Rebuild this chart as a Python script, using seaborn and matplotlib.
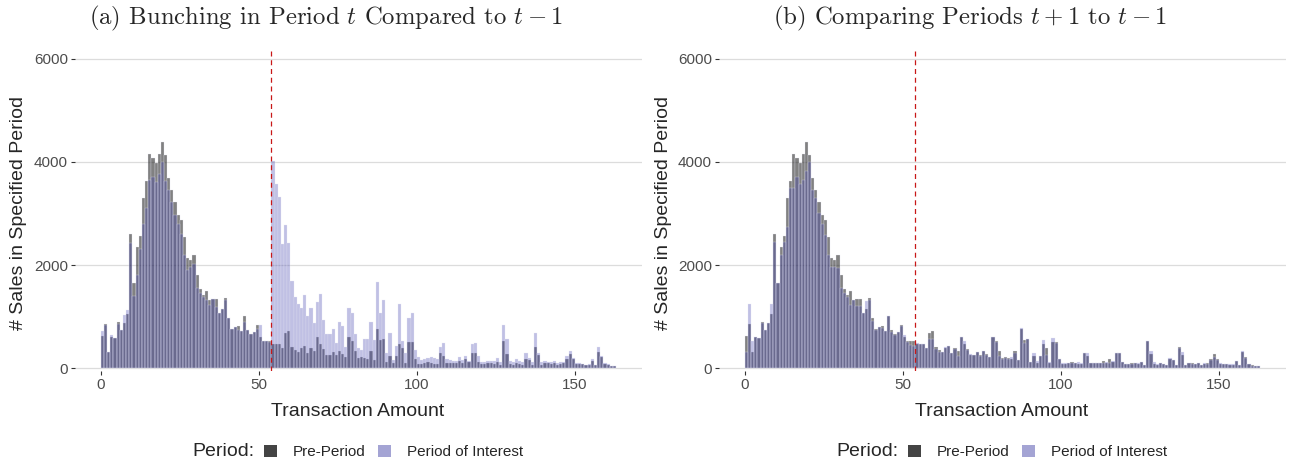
import numpy as np
import pandas as pd
import matplotlib
matplotlib.use("Agg")
import matplotlib.pyplot as plt
from matplotlib.patches import Patch
import seaborn as sns

# ---------------- data (counts per $1 bin, bins 0..162) ----------------
pre_period = [
    625, 858, 310, 600, 587, 900, 740, 870, 1050, 2610,
    1645, 2350, 2570, 3290, 3630, 4150, 4080, 3970, 4150, 4390,
    4130, 3680, 3460, 3230, 2970, 2870, 2550, 2130, 2100, 2190,
    1800, 1530, 1420, 1500, 1320, 1335, 1335, 1080, 1140, 1370,
    970, 755, 806, 820, 730, 1010, 740, 665, 710, 840,
    600, 530, 520, 520, 470, 470, 470, 390, 690, 720,
    405, 355, 320, 390, 430, 300, 390, 340, 610, 480,
    370, 260, 260, 320, 260, 335, 270, 225, 600, 535,
    340, 195, 215, 195, 190, 335, 160, 760, 550, 570,
    130, 240, 100, 240, 470, 390, 110, 515, 515, 175,
    85, 85, 110, 120, 110, 90, 85, 300, 245, 110,
    95, 95, 95, 135, 110, 175, 120, 300, 300, 130,
    75, 85, 95, 95, 85, 130, 70, 530, 280, 85,
    70, 95, 85, 65, 180, 160, 70, 405, 260, 60,
    110, 95, 85, 100, 60, 85, 95, 175, 270, 175,
    85, 85, 75, 60, 65, 150, 60, 320, 215, 90,
    65, 45, 40,
]

period_t = [
    715, 840, 310, 645, 580, 850, 740, 1030, 1130, 2420,
    1400, 1800, 2320, 2790, 3100, 3640, 3710, 3600, 3770, 4000,
    3630, 3460, 3230, 2970, 2800, 2610, 2190, 1900, 1970, 2030,
    1550, 1450, 1390, 1320, 1220, 1335, 1190, 1080, 1140, 1320,
    970, 755, 806, 740, 730, 900, 740, 665, 710, 760,
    840, 530, 520, 510, 4020, 3580, 3320, 2400, 2770, 2430,
    1690, 1390, 1240, 1175, 1420, 1020, 1160, 870, 1290, 1430,
    935, 660, 660, 755, 500, 900, 820, 420, 1160, 1065,
    660, 390, 355, 560, 560, 900, 550, 1680, 1065, 1320,
    300, 680, 160, 440, 1240, 535, 290, 980, 1065, 355,
    225, 160, 175, 195, 215, 195, 175, 405, 485, 175,
    160, 140, 140, 213, 160, 245, 140, 470, 485, 240,
    115, 130, 140, 140, 140, 195, 120, 840, 560, 150,
    115, 175, 150, 115, 290, 200, 120, 690, 300, 115,
    150, 130, 115, 140, 95, 120, 115, 240, 340, 195,
    95, 95, 90, 70, 85, 175, 70, 405, 240, 95,
    75, 45, 40,
]

period_t1 = [
    320, 1240, 535, 600, 590, 880, 740, 880, 1245, 2450,
    1645, 2200, 2450, 2740, 3500, 3500, 3710, 3580, 3650, 3820,
    4000, 3450, 3290, 3000, 2800, 2590, 2190, 1970, 1970, 1940,
    1550, 1450, 1390, 1230, 1320, 1200, 1200, 1080, 1300, 1330,
    920, 740, 800, 780, 720, 1010, 700, 650, 710, 820,
    650, 515, 450, 430, 485, 470, 470, 390, 560, 560,
    370, 320, 320, 420, 430, 300, 370, 245, 610, 530,
    355, 280, 260, 320, 240, 335, 260, 215, 600, 515,
    240, 175, 205, 175, 215, 290, 160, 775, 500, 560,
    130, 290, 140, 240, 550, 260, 115, 580, 500, 175,
    100, 95, 110, 110, 105, 125, 95, 300, 290, 97,
    100, 100, 100, 100, 130, 95, 150, 300, 300, 130,
    80, 85, 85, 95, 110, 130, 65, 530, 330, 115,
    75, 95, 85, 65, 195, 160, 65, 400, 320, 65,
    95, 85, 80, 95, 65, 95, 85, 160, 225, 160,
    95, 85, 85, 80, 80, 150, 65, 335, 195, 85,
    50, 50, 45,
]

amount_mid = np.arange(len(pre_period)) + 0.5
n_bins = len(pre_period)
threshold = 53.8
x_ticks = [0, 50, 100, 150]
y_ticks = [0, 2000, 4000, 6000]
titles = [r"(a) Bunching in Period $t$ Compared to $t-1$",
          r"(b) Comparing Periods $t+1$ to $t-1$"]
legend_labels = ["Pre-Period", "Period of Interest"]

df_a = pd.DataFrame({"amount": amount_mid, "pre": pre_period, "poi": period_t})
df_b = pd.DataFrame({"amount": amount_mid, "pre": pre_period, "poi": period_t1})

# ---------------- style ----------------
sns.set_style("white")
plt.rcParams["font.family"] = ["Liberation Sans", "DejaVu Sans"]
plt.rcParams["mathtext.fontset"] = "cm"
plt.rcParams["axes.unicode_minus"] = False

pre_color = "#1e1e1e"
poi_color = "#3c3cac"
pre_key = "#444444"
poi_key = "#a4a4d4"

W, H = 1292, 467
fig = plt.figure(figsize=(W / 100, H / 100), dpi=100)
axes = [fig.add_axes([75 / W, 96 / H, 567 / W, 323 / H]),
        fig.add_axes([719 / W, 96 / H, 567 / W, 323 / H])]

for k, (ax, df) in enumerate(zip(axes, [df_a, df_b])):
    sns.histplot(data=df, x="amount", weights="pre", binwidth=1,
                 binrange=(0, n_bins), ax=ax,
                 color=pre_color, alpha=0.56, edgecolor="#e8e8f4", linewidth=0.2)
    sns.histplot(data=df, x="amount", weights="poi", binwidth=1,
                 binrange=(0, n_bins), ax=ax,
                 color=poi_color, alpha=0.32, edgecolor="#e8e8f4", linewidth=0.2)
    ax.axvline(threshold, color="#c81818", lw=0.9, ls=(0, (4, 3)), zorder=5)
    ax.set_xlim(-8.15, 171.2)
    ax.set_ylim(-52, 6205)
    ax.set_xticks(x_ticks)
    ax.set_yticks(y_ticks)
    ax.yaxis.grid(True, color="#dcdcdc", lw=0.9)
    ax.xaxis.grid(False)
    ax.set_axisbelow(True)
    for s in ax.spines.values():
        s.set_visible(False)
    ax.tick_params(axis="both", which="major", length=3, width=0.8,
                   color="#333333", labelsize=11, labelcolor="#4d4d4d", pad=2,
                   bottom=True, left=True)
    ax.set_xlabel("")
    ax.set_ylabel("")
    off = 644 * k
    fig.text((326 + off) / W, 1 - 18 / H, titles[k], ha="center", va="center",
             fontsize=17.8, family="cmr10")
    fig.text((19 + off) / W, 1 - 213 / H, "# Sales in Specified Period",
             rotation=90, ha="center", va="center", fontsize=14)
    fig.text((358 + off) / W, 1 - 411 / H, "Transaction Amount",
             ha="center", va="center", fontsize=14)
    fig.text((192 + off) / W, 1 - 452 / H, "Period:", ha="left", va="center",
             fontsize=14)
    handles = [Patch(facecolor=pre_key, edgecolor="none"),
               Patch(facecolor=poi_key, edgecolor="none")]
    fig.legend(handles, legend_labels, loc="center left",
               bbox_to_anchor=((264 + off) / W, 1 - 452 / H), ncol=2,
               frameon=False, fontsize=11, handlelength=0.85, handleheight=0.85,
               handletextpad=1.05, columnspacing=0.8, borderpad=0, borderaxespad=0)

fig.savefig("out.png", dpi=100)
